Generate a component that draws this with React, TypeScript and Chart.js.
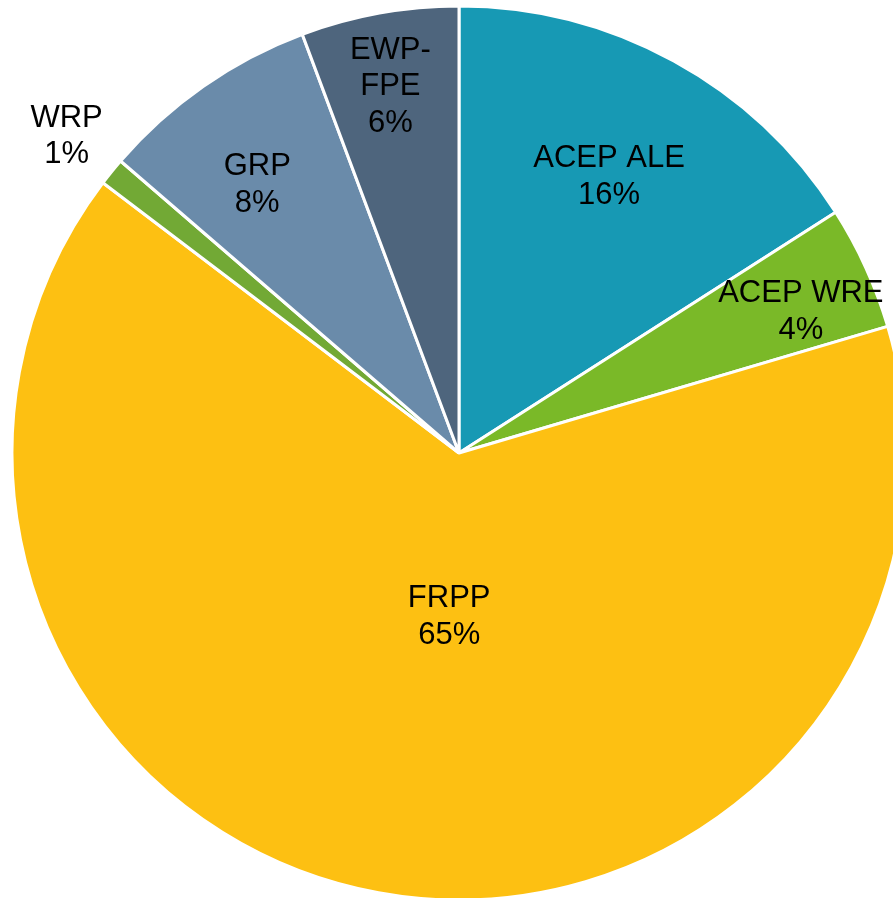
import React, { useEffect, useRef } from "react";
import { Chart, registerables } from "chart.js";

Chart.register(...registerables);

const categories = ["ACEP ALE", "ACEP WRE", "FRPP", "WRP", "GRP", "EWP-FPE"];
const values = [15.95, 4.48, 64.9, 1.0, 7.97, 5.7];
const colors = ["#1799B4", "#7AB928", "#FDC012", "#72A935", "#6A8BAA", "#4E657D"];

// label placement: fraction of radius along slice bisector, and angular nudge (deg)
const labelRadius = [0.707, 0.829, 0.363, 1.131, 0.754, 0.838];
const labelNudge = [-0.36, 1.8, -6.9, 0.1, -1.9, -0.3];

const FONT_SIZE = 31;
const LINE_H = 36.5;

function wrapName(name: string): string[] {
  const i = name.indexOf("-");
  if (i > 0) return [name.slice(0, i + 1), name.slice(i + 1)];
  return [name];
}

const labelPlugin = {
  id: "pieLabels",
  afterDatasetsDraw(chart: any) {
    const ctx = chart.ctx;
    const meta = chart.getDatasetMeta(0);
    const data = chart.data.datasets[0].data as number[];
    const total = data.reduce((a, b) => a + b, 0);
    ctx.save();
    ctx.font = `${FONT_SIZE}px "Liberation Sans", Arial, sans-serif`;
    ctx.fillStyle = "#000000";
    ctx.textAlign = "center";
    ctx.textBaseline = "alphabetic";
    meta.data.forEach((arc: any, i: number) => {
      const p = arc.getProps(["x", "y", "startAngle", "endAngle", "outerRadius"], true);
      const mid = (p.startAngle + p.endAngle) / 2 + (labelNudge[i] * Math.PI) / 180;
      const r = p.outerRadius * labelRadius[i];
      const cx = p.x + Math.cos(mid) * r;
      const cy = p.y + Math.sin(mid) * r;
      const lines = [...wrapName(categories[i]), Math.round((data[i] / total) * 100) + "%"];
      const n = lines.length;
      lines.forEach((t, k) => {
        const lc = cy + (k - (n - 1) / 2) * LINE_H;
        ctx.fillText(t, cx, lc + FONT_SIZE * 0.345);
      });
    });
    ctx.restore();
  },
};

export default function App() {
  const ref = useRef<HTMLCanvasElement | null>(null);
  useEffect(() => {
    if (!ref.current) return;
    const chart = new Chart(ref.current, {
      type: "pie",
      data: {
        labels: categories,
        datasets: [
          {
            data: values,
            backgroundColor: colors,
            borderColor: "#FFFFFF",
            borderWidth: 3,
            radius: 447,
          } as any,
        ],
      },
      options: {
        animation: false,
        responsive: false,
        events: [],
        layout: { padding: 0 },
        plugins: {
          legend: { display: false },
          tooltip: { enabled: false },
          title: { display: false },
        },
      },
      plugins: [labelPlugin],
    });
    return () => chart.destroy();
  }, []);
  return (
    <div
      style={{
        position: "fixed",
        left: 0,
        top: 0,
        width: 893,
        height: 898,
        overflow: "hidden",
        background: "#FFFFFF",
      }}
    >
      <canvas ref={ref} width={918} height={906} style={{ display: "block", width: 918, height: 906 }} />
    </div>
  );
}
